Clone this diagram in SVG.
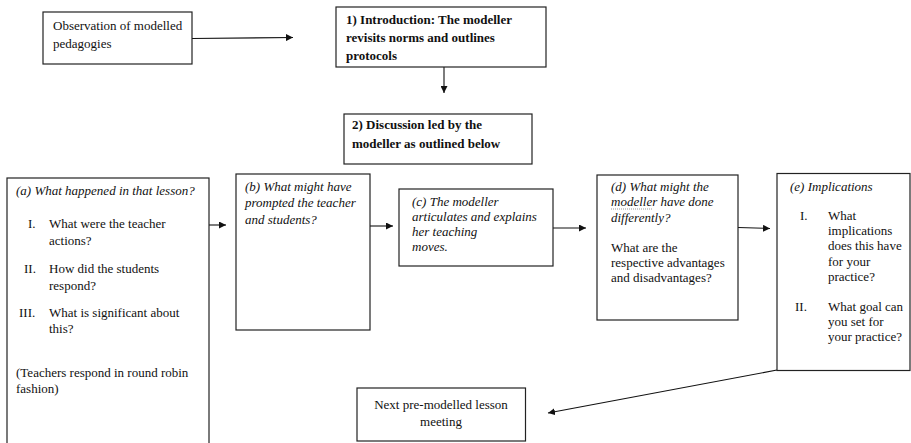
<svg xmlns="http://www.w3.org/2000/svg" width="911" height="443" viewBox="0 0 911 443">
<style>
.box{fill:#fff;stroke:#222;stroke-width:1.2}
.t{font-family:"Liberation Serif","Times New Roman",serif;font-size:13px;fill:#111}
.i{font-style:italic}
.b{font-weight:bold}
.ln{stroke:#111;stroke-width:1.1;fill:none}
</style>
<defs>
<marker id="ah" viewBox="0 0 10 10" refX="10" refY="5" markerWidth="7" markerHeight="7" markerUnits="userSpaceOnUse" orient="auto">
<path d="M0,0 L10,5 L0,10 z" fill="#111"/>
</marker>
</defs>
<rect width="911" height="443" fill="#fff"/>
<g id="connectors">
<line class="ln" x1="192" y1="38.5" x2="293" y2="37.5" marker-end="url(#ah)"/>
<line class="ln" x1="444" y1="67" x2="444" y2="93" marker-end="url(#ah)"/>
<line class="ln" x1="209" y1="225" x2="226" y2="225" marker-end="url(#ah)"/>
<line class="ln" x1="370" y1="226" x2="393" y2="226" marker-end="url(#ah)"/>
<line class="ln" x1="553" y1="228" x2="586" y2="228" marker-end="url(#ah)"/>
<line class="ln" x1="738" y1="227.5" x2="770" y2="228.5" marker-end="url(#ah)"/>
<line class="ln" x1="777" y1="370" x2="548" y2="413" marker-end="url(#ah)"/>
</g>
<g id="observation">
<rect class="box" x="43" y="12" width="149" height="52"/>
<text class="t" x="53" y="30">Observation of modelled</text>
<text class="t" x="53" y="48">pedagogies</text>
</g>
<g id="introduction">
<rect class="box" x="336" y="7" width="210" height="60"/>
<text class="t b" x="346" y="24">1) Introduction: The modeller</text>
<text class="t b" x="346" y="42">revisits norms and outlines</text>
<text class="t b" x="346" y="60">protocols</text>
</g>
<g id="discussion">
<rect class="box" x="344" y="114" width="188" height="50"/>
<text class="t b" x="352" y="129">2) Discussion led by the</text>
<text class="t b" x="352" y="148">modeller as outlined below</text>
</g>
<g id="node-a">
<rect class="box" x="7" y="178" width="202" height="275"/>
<text class="t i" x="16" y="195">(a) What happened in that lesson?</text>
<text class="t" x="28" y="228">I.</text>
<text class="t" x="49" y="228">What were the teacher</text>
<text class="t" x="49" y="245">actions?</text>
<text class="t" x="24" y="273">II.</text>
<text class="t" x="49" y="273">How did the students</text>
<text class="t" x="49" y="290">respond?</text>
<text class="t" x="19" y="317">III.</text>
<text class="t" x="49" y="317">What is significant about</text>
<text class="t" x="49" y="333">this?</text>
<text class="t" x="16" y="377">(Teachers respond in round robin</text>
<text class="t" x="16" y="393">fashion)</text>
</g>
<g id="node-b">
<rect class="box" x="236" y="174" width="134" height="156"/>
<text class="t i" x="245" y="191">(b) What might have</text>
<text class="t i" x="245" y="207">prompted the teacher</text>
<text class="t i" x="245" y="224">and students?</text>
</g>
<g id="node-c">
<rect class="box" x="399" y="189" width="154" height="77"/>
<text class="t i" x="412" y="206">(c) The modeller</text>
<text class="t i" x="412" y="221">articulates and explains</text>
<text class="t i" x="412" y="236">her teaching</text>
<text class="t i" x="412" y="251">moves.</text>
</g>
<g id="node-d">
<rect class="box" x="597" y="175" width="141" height="145"/>
<text class="t i" x="611" y="191">(d) What might the</text>
<text class="t i" x="611" y="206">modeller have done</text>
<line x1="611" y1="209" x2="653" y2="209" stroke="#999" stroke-width="1" stroke-dasharray="1,1"/>
<text class="t i" x="611" y="221.5">differently?</text>
<text class="t" x="611" y="251.5">What are the</text>
<text class="t" x="611" y="266.5">respective advantages</text>
<text class="t" x="611" y="281.5">and disadvantages?</text>
</g>
<g id="node-e">
<rect class="box" x="777" y="173.5" width="133" height="197"/>
<text class="t i" x="790" y="190.5">(e) Implications</text>
<text class="t" x="800" y="220">I.</text>
<text class="t" x="828" y="220">What</text>
<text class="t" x="828" y="235">implications</text>
<text class="t" x="828" y="250">does this have</text>
<text class="t" x="828" y="265.5">for your</text>
<text class="t" x="828" y="280.5">practice?</text>
<text class="t" x="795" y="310.5">II.</text>
<text class="t" x="828" y="310.5">What goal can</text>
<text class="t" x="828" y="325.5">you set for</text>
<text class="t" x="828" y="340.5">your practice?</text>
</g>
<g id="next">
<rect class="box" x="357" y="388" width="168.5" height="53"/>
<text class="t" x="441" y="409" text-anchor="middle">Next pre-modelled lesson</text>
<text class="t" x="441" y="426" text-anchor="middle">meeting</text>
</g>
</svg>
